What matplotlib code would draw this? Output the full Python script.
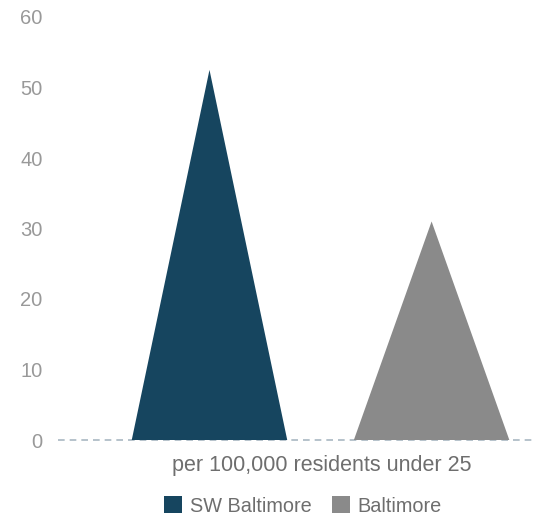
import matplotlib.pyplot as plt
from matplotlib.patches import Patch

plt.rcParams['font.family'] = ['Liberation Sans', 'DejaVu Sans']

# rate per 100,000 residents under 25
regions = ["SW Baltimore", "Baltimore"]
rates = [52.5, 31.0]
colors = ["#16455f", "#8a8a8a"]
y_ticks = [0, 10, 20, 30, 40, 50, 60]

fig = plt.figure(figsize=(5.36, 5.18), dpi=100)
ax = fig.add_axes([58 / 536, 1 - 440 / 518, 478 / 536, 423 / 518])

width = 0.7
for i, (rate, color) in enumerate(zip(rates, colors)):
    # triangle "bar": base on zero, apex at the value
    ax.fill([i - width / 2, i, i + width / 2], [0, rate, 0], color=color, lw=0, zorder=2)

ax.axhline(0, color="#a9b8c2", lw=1.2, ls=(0, (4, 3)), zorder=1, clip_on=False)
ax.set_xlim(-0.682, 1.47)
ax.set_ylim(0, 60)
ax.set_yticks(y_ticks)
ax.tick_params(axis="y", length=0, labelsize=14.5, labelcolor="#999999", pad=11)
ax.set_xticks([])
for s in ax.spines.values():
    s.set_visible(False)

fig.text(322 / 536, 1 - 465 / 518, "per 100,000 residents under 25",
         ha="center", va="center", fontsize=15.5, color="#6e6e6e")

handles = [Patch(facecolor=c, edgecolor="none") for c in colors]
fig.legend(handles, regions, loc="center", bbox_to_anchor=(303 / 536, 1 - 506 / 518),
           ncol=2, frameon=False, fontsize=14.3, labelcolor="#6e6e6e",
           handlelength=0.9, handleheight=0.9, handletextpad=0.4, columnspacing=1.0)

fig.savefig("out.png", dpi=100)
